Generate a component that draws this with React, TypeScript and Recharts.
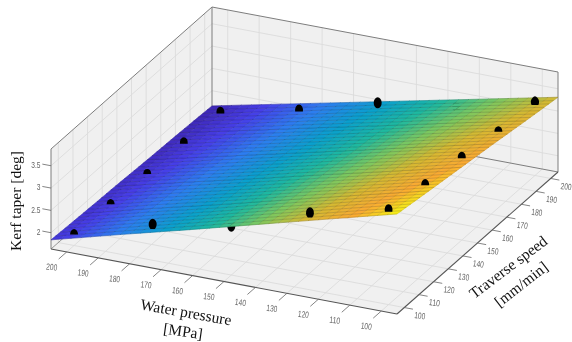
import React from "react";
import { ScatterChart, Scatter, XAxis, YAxis } from "recharts";

const pressureTicks = [200, 190, 180, 170, 160, 150, 140, 130, 120, 110, 100];
const speedTicks = [100, 110, 120, 130, 140, 150, 160, 170, 180, 190, 200];
const taperTicks = [2, 2.5, 3, 3.5];

// fitted surface, rows follow surfacePressures, columns follow surfaceSpeeds
const surfacePressures = [205, 183, 161, 139, 117, 95];
const surfaceSpeeds = [95, 117, 139, 161, 183, 205];
const surfaceTaper = [
  [1.84, 1.8, 1.77, 1.73, 1.7, 1.66],
  [2.25, 2.2, 2.15, 2.09, 2.04, 1.99],
  [2.65, 2.58, 2.52, 2.45, 2.39, 2.32],
  [3.06, 2.98, 2.9, 2.81, 2.73, 2.65],
  [3.47, 3.37, 3.27, 3.18, 3.08, 2.98],
  [3.875, 3.76, 3.65, 3.54, 3.42, 3.31],
];

// measured points that sit on top of the surface
const frontPressures = [200, 200, 200, 200, 200, 175, 175, 150, 125, 100, 100, 100, 100, 100];
const frontSpeeds = [100, 125, 150, 175, 200, 100, 200, 200, 100, 100, 125, 150, 175, 200];
const frontTaper = [1.88, 1.83, 1.78, 1.77, 1.73, 2.44, 2.11, 2.6, 3.36, 3.76, 3.6, 3.49, 3.34, 3.28];

// measured points hidden behind the surface
const behindPressures = [150, 125];
const behindSpeeds = [100, 200];
const behindTaper = [2.73, 2.84];

const AXIS_MIN = 95;
const AXIS_MAX = 205;
const TAPER_MIN = 1.635;
const TAPER_MAX = 3.875;

const GRID = "#dbdbdb";
const EDGE = "#7d7d7d";
const TICK = "#666";

// box view: oblique projection of the three axes onto the page
const project = (p: number, s: number, z: number) => {
  const u = (AXIS_MAX - p) / (AXIS_MAX - AXIS_MIN);
  const v = (s - AXIS_MIN) / (AXIS_MAX - AXIS_MIN);
  const h = ((z - TAPER_MIN) / (TAPER_MAX - TAPER_MIN)) * 100;
  return { x: 51 + 346 * u + 161 * v, y: 249 + 65 * u - 142 * v - h };
};

const surfaceAt = (p: number, s: number) => {
  const fp = ((AXIS_MAX - p) / (AXIS_MAX - AXIS_MIN)) * (surfacePressures.length - 1);
  const fs = ((s - AXIS_MIN) / (AXIS_MAX - AXIS_MIN)) * (surfaceSpeeds.length - 1);
  const i = Math.min(Math.floor(fp), surfacePressures.length - 2);
  const j = Math.min(Math.floor(fs), surfaceSpeeds.length - 2);
  const a = fp - i;
  const b = fs - j;
  return (
    (1 - a) * (1 - b) * surfaceTaper[i][j] +
    (1 - a) * b * surfaceTaper[i][j + 1] +
    a * (1 - b) * surfaceTaper[i + 1][j] +
    a * b * surfaceTaper[i + 1][j + 1]
  );
};

const parula: [number, number, number, number][] = [
  [0, 62, 38, 178],
  [0.12, 70, 62, 232],
  [0.25, 45, 125, 240],
  [0.38, 10, 160, 205],
  [0.5, 30, 185, 160],
  [0.625, 125, 200, 95],
  [0.75, 215, 185, 50],
  [0.875, 250, 170, 50],
  [1, 245, 245, 20],
];

const colorOf = (z: number) => {
  const t = Math.max(0, Math.min(1, (z - 1.66) / (3.875 - 1.66)));
  let k = 0;
  while (k < parula.length - 2 && t > parula[k + 1][0]) k++;
  const [t0, r0, g0, b0] = parula[k];
  const [t1, r1, g1, b1] = parula[k + 1];
  const f = (t - t0) / (t1 - t0);
  return `rgb(${Math.round(r0 + (r1 - r0) * f)},${Math.round(g0 + (g1 - g0) * f)},${Math.round(b0 + (b1 - b0) * f)})`;
};

const polyPath = (pts: { x: number; y: number }[], ox = 0, oy = 0) =>
  pts.map((q, i) => `${i ? "L" : "M"}${(q.x + ox).toFixed(2)} ${(q.y + oy).toFixed(2)}`).join("");

// the chart plot is one page pixel per axis unit, so corners shift with the point the scale placed
const WallShape = (props: any) => {
  const { cx, cy, payload } = props;
  return (
    <path
      d={polyPath(payload.pts, cx - payload.x, cy - payload.y) + "Z"}
      fill={payload.fill}
    />
  );
};

const SegmentShape = (props: any) => {
  const { cx, cy, payload } = props;
  return (
    <path
      d={polyPath(payload.pts, cx - payload.x, cy - payload.y)}
      fill="none"
      stroke={payload.stroke}
      strokeWidth={payload.width}
    />
  );
};

const TextShape = (props: any) => {
  const { cx, cy, payload } = props;
  return (
    <text
      x={cx}
      y={cy}
      dy="0.35em"
      textAnchor={payload.anchor || "middle"}
      transform={payload.rotate ? `rotate(${payload.rotate} ${cx} ${cy})` : undefined}
      fontFamily={payload.font}
      fontSize={payload.size}
      fill={payload.fill}
      textLength={payload.fit}
      lengthAdjust={payload.fit ? "spacingAndGlyphs" : undefined}
    >
      {payload.label}
    </text>
  );
};

const SUB = 7;

const CellShape = (props: any) => {
  const { cx, cy, payload } = props;
  const { i, j, x, y } = payload;
  const ox = cx - x;
  const oy = cy - y;
  const p0 = surfacePressures[i];
  const p1 = surfacePressures[i + 1];
  const s0 = surfaceSpeeds[j];
  const s1 = surfaceSpeeds[j + 1];
  const node = (a: number, b: number) => {
    const p = p0 + ((p1 - p0) * a) / SUB;
    const s = s0 + ((s1 - s0) * b) / SUB;
    const z = surfaceAt(p, s);
    return { ...project(p, s, z), z };
  };
  const quads = [];
  for (let a = 0; a < SUB; a++) {
    for (let b = 0; b < SUB; b++) {
      const corners = [node(a, b), node(a + 1, b), node(a + 1, b + 1), node(a, b + 1)];
      const col = colorOf((corners[0].z + corners[2].z) / 2);
      quads.push(
        <path key={`${a}-${b}`} d={polyPath(corners, ox, oy) + "Z"} fill={col} stroke={col} strokeWidth={0.5} />
      );
    }
  }
  const rows = [];
  const cols = [];
  for (let b = 0; b <= SUB; b++) {
    const line = [];
    for (let a = 0; a <= SUB; a++) line.push(node(a, b));
    rows.push(polyPath(line, ox, oy));
  }
  for (let a = 0; a <= SUB; a++) {
    const line = [];
    for (let b = 0; b <= SUB; b++) line.push(node(a, b));
    cols.push(polyPath(line, ox, oy));
  }
  return (
    <g>
      {quads}
      <path d={rows.join("")} fill="none" stroke="#000" strokeOpacity={0.26} strokeWidth={0.6} />
      <path d={cols.join("")} fill="none" stroke="#000" strokeOpacity={0.14} strokeWidth={0.6} />
    </g>
  );
};

const RX = 4;
const RY = 5.5;

const MarkerShape = (props: any) => {
  const { cx, cy, payload } = props;
  const clip = payload.clip === undefined ? Infinity : payload.clip - payload.y + cy;
  if (cy + RY <= clip) return <ellipse cx={cx} cy={cy} rx={RX} ry={RY} fill="#000" />;
  if (clip <= cy - RY) return <g />;
  const dx = RX * Math.sqrt(1 - ((clip - cy) / RY) ** 2);
  return (
    <path
      d={`M${cx - dx} ${clip}A${RX} ${RY} 0 ${clip > cy ? 1 : 0} 1 ${cx + dx} ${clip}Z`}
      fill="#000"
    />
  );
};

const withStart = (pts: { x: number; y: number }[], extra: object) => ({ x: pts[0].x, y: pts[0].y, pts, ...extra });

const seg = (a: { x: number; y: number }, b: { x: number; y: number }, stroke: string, width: number) =>
  withStart([a, b], { stroke, width });

const ZL = TAPER_MIN;
const ZH = TAPER_MAX;

const walls = [
  withStart(
    [project(AXIS_MAX, AXIS_MIN, ZL), project(AXIS_MIN, AXIS_MIN, ZL), project(AXIS_MIN, AXIS_MAX, ZL), project(AXIS_MAX, AXIS_MAX, ZL)],
    { fill: "#f0f0f0" }
  ),
  withStart(
    [project(AXIS_MAX, AXIS_MIN, ZL), project(AXIS_MAX, AXIS_MAX, ZL), project(AXIS_MAX, AXIS_MAX, ZH), project(AXIS_MAX, AXIS_MIN, ZH)],
    { fill: "#f0f0f0" }
  ),
  withStart(
    [project(AXIS_MAX, AXIS_MAX, ZL), project(AXIS_MIN, AXIS_MAX, ZL), project(AXIS_MIN, AXIS_MAX, ZH), project(AXIS_MAX, AXIS_MAX, ZH)],
    { fill: "#f0f0f0" }
  ),
];

const gridLines = [
  ...pressureTicks.flatMap((p) => [
    seg(project(p, AXIS_MIN, ZL), project(p, AXIS_MAX, ZL), GRID, 0.9),
    seg(project(p, AXIS_MAX, ZL), project(p, AXIS_MAX, ZH), GRID, 0.9),
  ]),
  ...speedTicks.flatMap((s) => [
    seg(project(AXIS_MAX, s, ZL), project(AXIS_MIN, s, ZL), GRID, 0.9),
    seg(project(AXIS_MAX, s, ZL), project(AXIS_MAX, s, ZH), GRID, 0.9),
  ]),
  ...taperTicks.flatMap((z) => [
    seg(project(AXIS_MAX, AXIS_MIN, z), project(AXIS_MAX, AXIS_MAX, z), GRID, 0.9),
    seg(project(AXIS_MAX, AXIS_MAX, z), project(AXIS_MIN, AXIS_MAX, z), GRID, 0.9),
  ]),
];

const boxEdges = [
  seg(project(AXIS_MAX, AXIS_MIN, ZL), project(AXIS_MAX, AXIS_MIN, ZH), EDGE, 1),
  seg(project(AXIS_MAX, AXIS_MIN, ZH), project(AXIS_MAX, AXIS_MAX, ZH), EDGE, 1),
  seg(project(AXIS_MAX, AXIS_MAX, ZH), project(AXIS_MIN, AXIS_MAX, ZH), EDGE, 1),
  seg(project(AXIS_MAX, AXIS_MAX, ZL), project(AXIS_MAX, AXIS_MAX, ZH), EDGE, 1),
  seg(project(AXIS_MIN, AXIS_MAX, ZL), project(AXIS_MIN, AXIS_MAX, ZH), EDGE, 1),
  seg(project(AXIS_MAX, AXIS_MAX, ZL), project(AXIS_MIN, AXIS_MAX, ZL), EDGE, 1),
  seg(project(AXIS_MAX, AXIS_MIN, ZL), project(AXIS_MAX, AXIS_MAX, ZL), EDGE, 0.8),
  seg(project(AXIS_MAX, AXIS_MIN, ZL), project(AXIS_MIN, AXIS_MIN, ZL), "#555", 1.1),
  seg(project(AXIS_MIN, AXIS_MIN, ZL), project(AXIS_MIN, AXIS_MAX, ZL), "#555", 1.1),
];

const tickMarks = [
  ...pressureTicks.map((p) => seg(project(p, AXIS_MIN, ZL), project(p, AXIS_MIN - 5.5, ZL), TICK, 0.8)),
  ...speedTicks.map((s) => seg(project(AXIS_MIN, s, ZL), project(AXIS_MIN - 2.75, s, ZL), TICK, 0.8)),
  ...taperTicks.map((z) => seg(project(AXIS_MAX, AXIS_MIN, z), project(AXIS_MAX + 2.75, AXIS_MIN, z), TICK, 0.8)),
];

const SANS = "'Liberation Sans', Arial, sans-serif";
const SERIF = "'Liberation Serif', 'Times New Roman', serif";

// the tick numbers are narrow in the reference, so their width is set directly
const tickLabel = (label: string, x: number, y: number, rotate: number, anchor = "middle") => ({
  x,
  y,
  label,
  rotate,
  anchor,
  fit: label.replace(".", "").length * 3.7 + (label.includes(".") ? 1.8 : 0),
  font: SANS,
  size: 9,
  fill: "#666",
});

const tickLabels = [
  ...pressureTicks.map((p) => {
    const q = project(p, AXIS_MIN, ZL);
    return tickLabel(String(p), q.x - 15, q.y + 15, 7);
  }),
  ...speedTicks.map((s) => {
    const q = project(AXIS_MIN, s, ZL);
    return tickLabel(String(s), q.x + 15.5, q.y + 8, 7);
  }),
  ...taperTicks.map((z) => {
    const q = project(AXIS_MAX, AXIS_MIN, z);
    return tickLabel(String(z), q.x - 10.5, q.y - 1, 0, "end");
  }),
];

const titleText = (label: string, x: number, y: number, rotate: number) => ({
  x,
  y,
  label,
  rotate,
  font: SERIF,
  size: 15.5,
  fill: "#111",
});

const titles = [
  titleText("Water pressure", 186, 312, 10),
  titleText("[MPa]", 183, 331, 8),
  titleText("Traverse speed", 508, 267, -37),
  titleText("[mm/min]", 521, 284, -38),
  titleText("Kerf taper [deg]", 16, 201, -90),
];

const surfaceCells = surfacePressures.slice(0, -1).flatMap((p, i) =>
  surfaceSpeeds.slice(0, -1).map((s, j) => {
    const q = project(p, s, surfaceTaper[i][j]);
    return { x: q.x, y: q.y, i, j };
  })
);

const markerPoints = (ps: number[], ss: number[], zs: number[], clipped: boolean) =>
  ps.map((p, k) => {
    const q = project(p, ss[k], zs[k]);
    const onSurface = project(p, ss[k], surfaceAt(p, ss[k]));
    return clipped ? { x: q.x, y: q.y, clip: onSurface.y + 2 } : { x: q.x, y: q.y };
  });

const frontPoints = markerPoints(frontPressures, frontSpeeds, frontTaper, true);
const behindPoints = markerPoints(behindPressures, behindSpeeds, behindTaper, false);

export default function App() {
  return (
    <div style={{ position: "absolute", left: 0, top: 0, width: 572, height: 342, filter: "blur(0.35px)" }}>
      <ScatterChart width={572} height={342} margin={{ top: 0, right: 0, bottom: 0, left: 0 }}>
        <XAxis type="number" dataKey="x" domain={[0, 572]} hide />
        <YAxis type="number" dataKey="y" domain={[0, 342]} reversed hide />
        <Scatter data={walls} shape={WallShape} isAnimationActive={false} />
        <Scatter data={gridLines} shape={SegmentShape} isAnimationActive={false} />
        <Scatter data={boxEdges} shape={SegmentShape} isAnimationActive={false} />
        <Scatter data={tickMarks} shape={SegmentShape} isAnimationActive={false} />
        <Scatter data={tickLabels} shape={TextShape} isAnimationActive={false} />
        <Scatter data={behindPoints} shape={MarkerShape} isAnimationActive={false} />
        <Scatter data={surfaceCells} shape={CellShape} isAnimationActive={false} />
        <Scatter data={frontPoints} shape={MarkerShape} isAnimationActive={false} />
        <Scatter data={titles} shape={TextShape} isAnimationActive={false} />
      </ScatterChart>
    </div>
  );
}
